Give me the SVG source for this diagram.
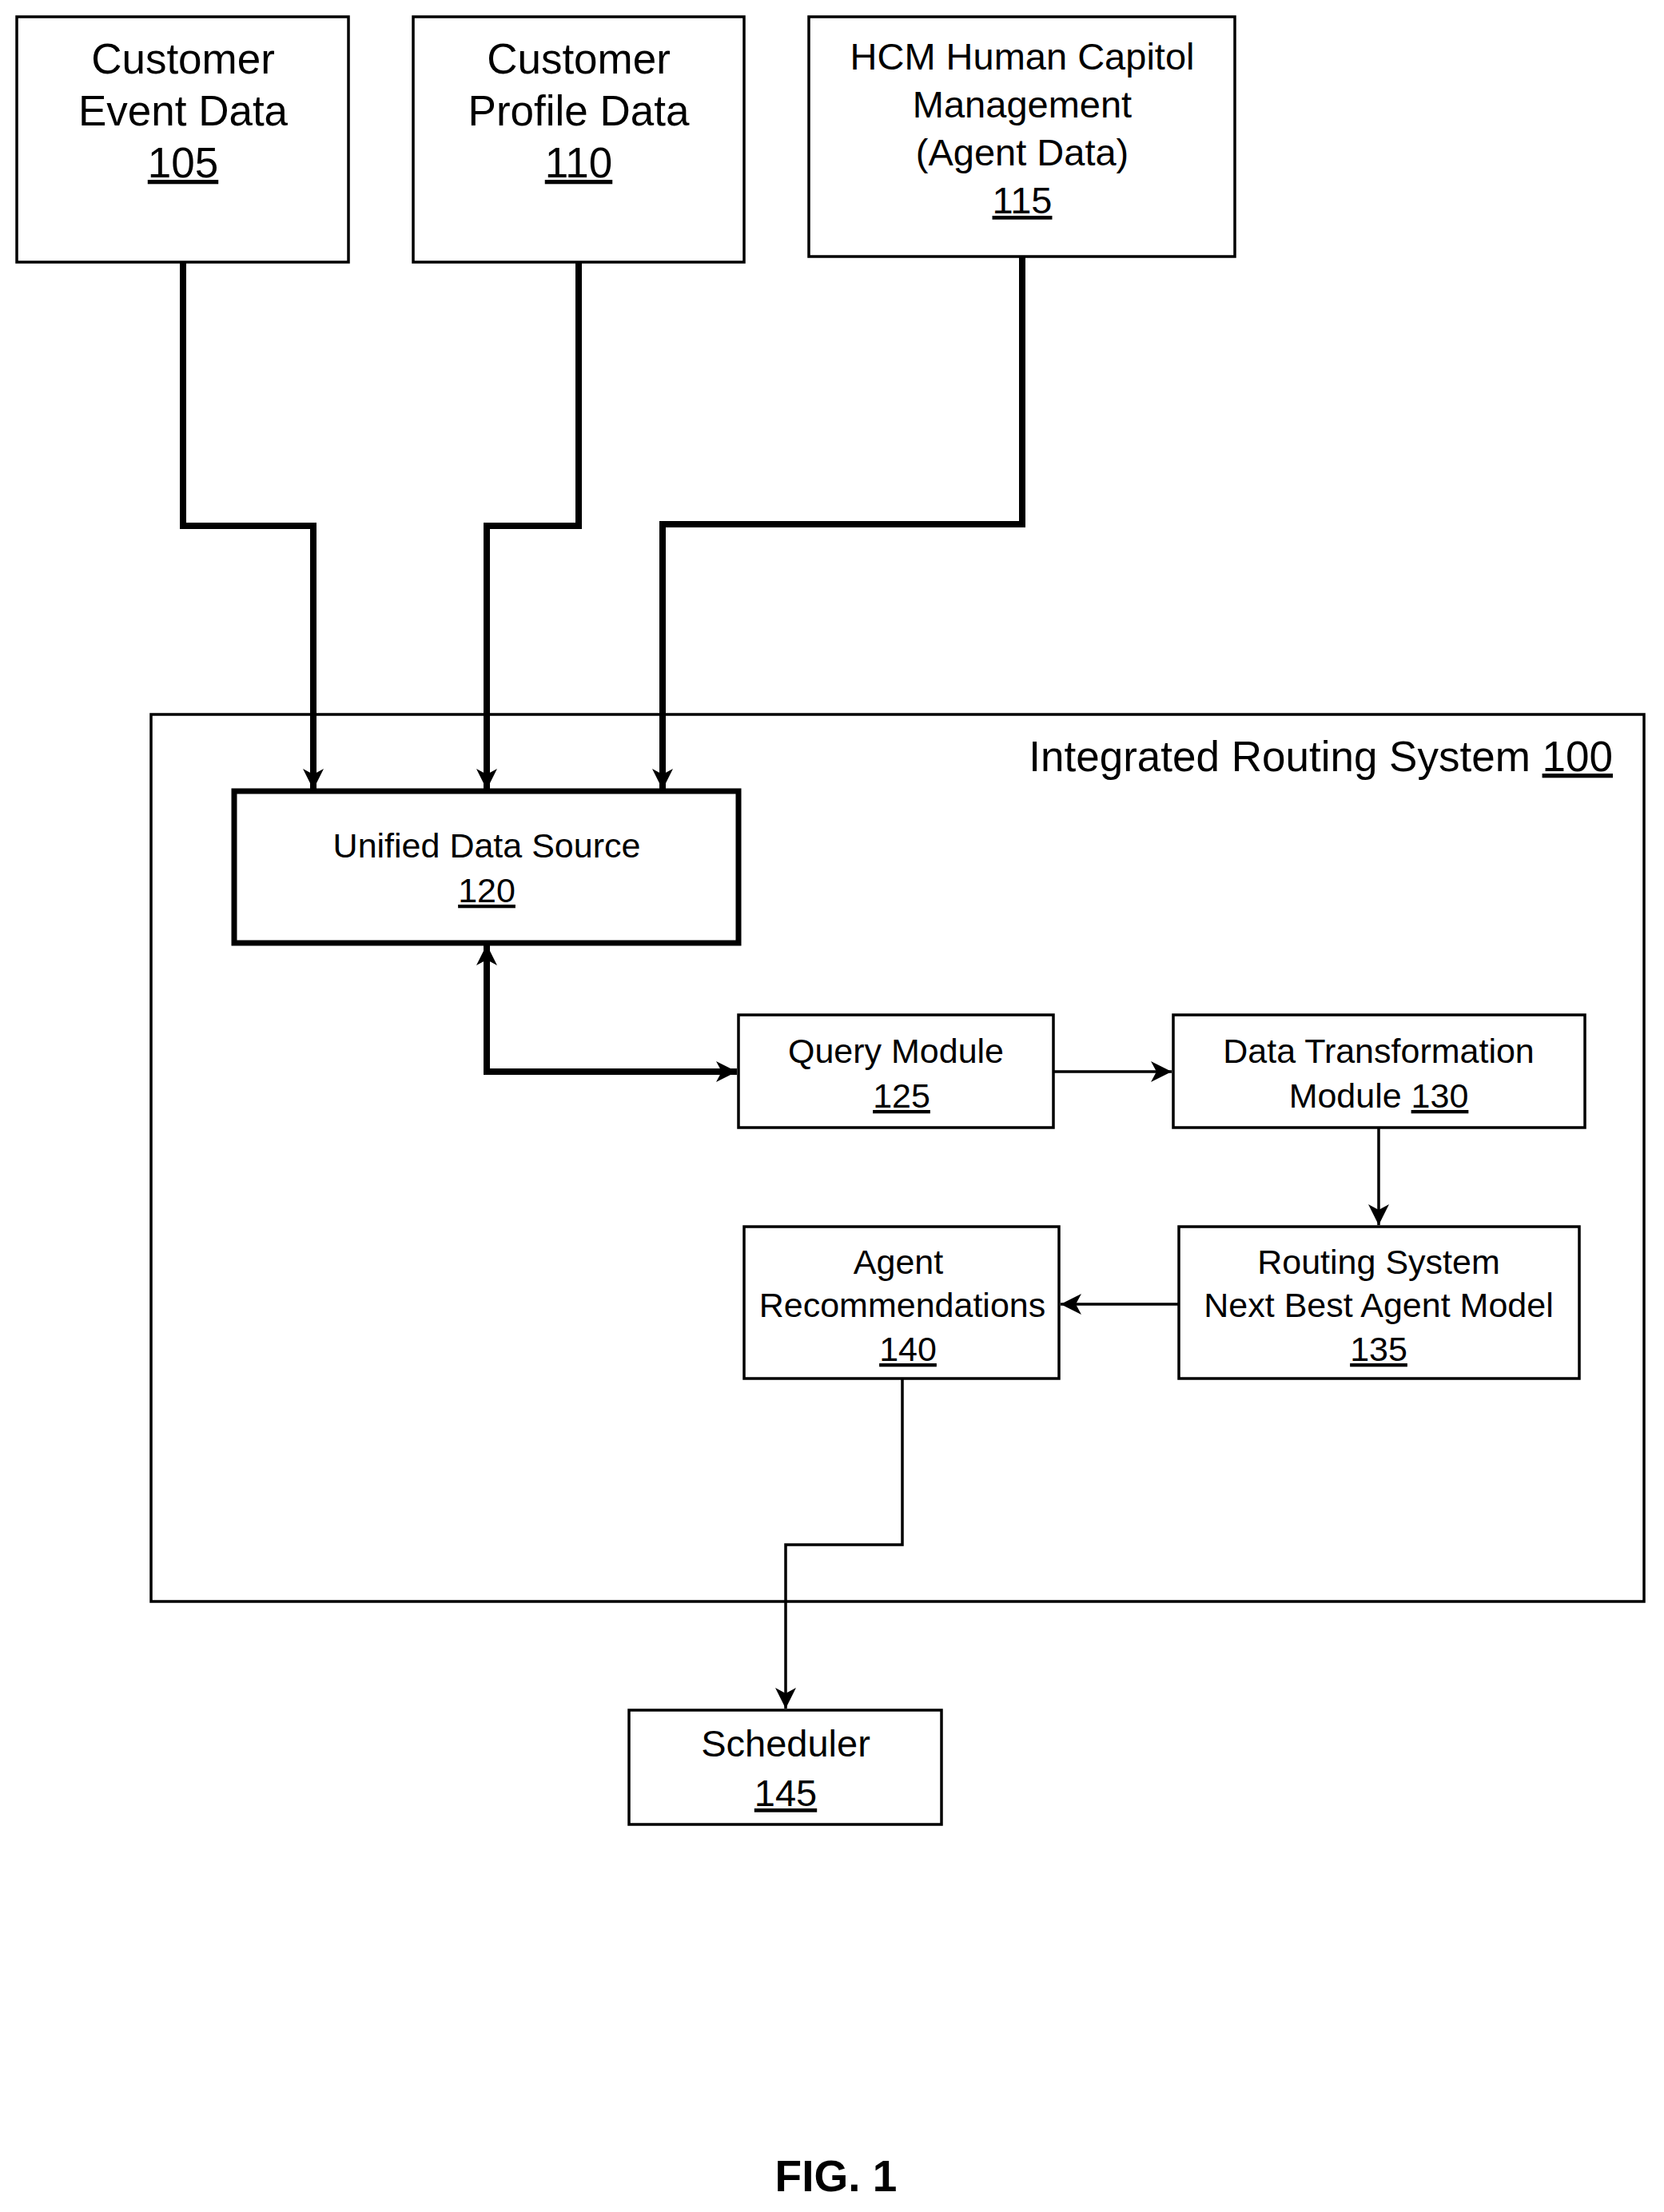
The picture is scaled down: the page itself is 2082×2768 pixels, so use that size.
<svg xmlns="http://www.w3.org/2000/svg" width="2082" height="2768" viewBox="0 0 2082 2768">
<style>
text{font-family:"Liberation Sans",Arial,sans-serif;fill:#000;text-anchor:middle}
.b{fill:#fff;stroke:#000;stroke-width:3.5}
.t{font-size:53px}.h{font-size:47px}.m{font-size:43px}.s{font-size:47px}
.thick{fill:none;stroke:#000;stroke-width:8}
.thin{fill:none;stroke:#000;stroke-width:3.5}
</style>
<defs>
<marker id="a" viewBox="0 0 10 10" refX="10" refY="5" markerWidth="5" markerHeight="5" orient="auto-start-reverse" markerUnits="userSpaceOnUse" style="overflow:visible"><path d="M0,0 L10,5 L0,10 L3,5 Z" transform="scale(2.6)"/></marker>
<marker id="c" viewBox="0 0 26 26" refX="26" refY="13" markerWidth="26" markerHeight="26" orient="auto-start-reverse" markerUnits="userSpaceOnUse"><path d="M0,0 L26,13 L0,26 L7,13 Z"/></marker>
</defs>
<g id="n105"><rect class="b" x="21" y="21" width="415" height="307"/><text class="t" x="229" y="92">Customer</text><text class="t" x="229" y="157">Event Data</text><text class="t" x="229" y="222" text-decoration="underline">105</text></g>
<g id="n110"><rect class="b" x="517" y="21" width="414" height="307"/><text class="t" x="724" y="92">Customer</text><text class="t" x="724" y="157">Profile Data</text><text class="t" x="724" y="222" text-decoration="underline">110</text></g>
<g id="n115"><rect class="b" x="1012" y="21" width="533" height="300"/><text class="h" x="1279" y="87">HCM Human Capitol</text><text class="h" x="1279" y="147">Management</text><text class="h" x="1279" y="207">(Agent Data)</text><text class="h" x="1279" y="267" text-decoration="underline">115</text></g>
<g id="n100"><rect class="b" x="189" y="894" width="1868" height="1110"/><text class="t" x="2018" y="965" style="text-anchor:end">Integrated Routing System <tspan text-decoration="underline">100</tspan></text></g>
<g id="n120"><rect x="293" y="990" width="631" height="190" fill="#fff" stroke="#000" stroke-width="7"/><text class="m" x="609" y="1073">Unified Data Source</text><text class="m" x="609" y="1129" text-decoration="underline">120</text></g>
<g id="n125"><rect class="b" x="924" y="1270" width="394" height="141"/><text class="m" x="1121" y="1330">Query Module</text><text class="m" x="1128" y="1386" text-decoration="underline">125</text></g>
<g id="n130"><rect class="b" x="1468" y="1270" width="515" height="141"/><text class="m" x="1725" y="1330">Data Transformation</text><text class="m" x="1725" y="1386">Module <tspan text-decoration="underline">130</tspan></text></g>
<g id="n135"><rect class="b" x="1475" y="1535" width="501" height="190"/><text class="m" x="1725" y="1594">Routing System</text><text class="m" x="1725" y="1648">Next Best Agent Model</text><text class="m" x="1725" y="1703" text-decoration="underline">135</text></g>
<g id="n140"><rect class="b" x="931" y="1535" width="394" height="190"/><text class="m" x="1124" y="1594">Agent</text><text class="m" x="1129" y="1648">Recommendations</text><text class="m" x="1136" y="1703" text-decoration="underline">140</text></g>
<g id="n145"><rect class="b" x="787" y="2140" width="391" height="143"/><text class="s" x="983" y="2198">Scheduler</text><text class="s" x="983" y="2260" text-decoration="underline">145</text></g>
<g id="connectors">
<path class="thick" d="M229,328 V658 H392 V988" marker-end="url(#c)"/>
<path class="thick" d="M724,328 V658 H609 V988" marker-end="url(#c)"/>
<path class="thick" d="M1279,321 V656 H829 V988" marker-end="url(#c)"/>
<path class="thick" d="M609,1182 V1341 H922" marker-start="url(#c)" marker-end="url(#c)"/>
<path class="thin" d="M1318,1341 H1466" marker-end="url(#c)"/>
<path class="thin" d="M1725,1411 V1533" marker-end="url(#c)"/>
<path class="thin" d="M1475,1632 H1327" marker-end="url(#c)"/>
<path class="thin" d="M1129,1725 V1933 H983 V2138" marker-end="url(#c)"/>
</g>
<text x="1046" y="2742" style="font-size:55px;font-weight:bold">FIG. 1</text>
</svg>
